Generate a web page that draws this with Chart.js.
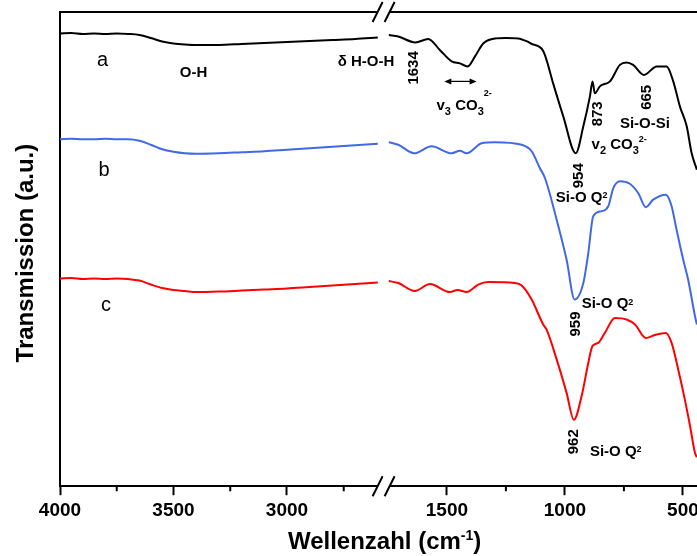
<!DOCTYPE html>
<html>
<head>
<meta charset="utf-8">
<title>FTIR</title>
<script src="https://cdn.jsdelivr.net/npm/chart.js@4.4.1/dist/chart.umd.min.js"></script>
<style>
html, body { margin: 0; padding: 0; background: #fff; overflow: hidden; }
#wrap { width: 720px; height: 556px; }
</style>
</head>
<body>
<div id="wrap"><canvas id="ftirChart" width="720" height="556"></canvas></div>
<script>
const FONT = "'Liberation Sans', Arial, sans-serif";

// high wavenumber part (4000 - 2600 cm-1), same grid for all three samples
const wnHigh = [4000, 3950, 3900, 3850, 3800, 3750, 3700, 3650, 3600, 3550, 3500, 3450, 3400, 3300, 3200, 3100, 3000, 2900, 2800, 2700, 2600];
const aHigh = [90.7, 90.8, 90.6, 90.7, 90.6, 90.7, 90.6, 90.4, 89.8, 89.1, 88.7, 88.5, 88.4, 88.4, 88.6, 88.8, 89.0, 89.2, 89.4, 89.6, 89.9];
const bHigh = [69.5, 69.6, 69.5, 69.5, 69.6, 69.5, 69.5, 69.2, 68.4, 67.5, 67.0, 66.7, 66.6, 66.7, 66.9, 67.1, 67.4, 67.7, 68.0, 68.3, 68.6];
const cHigh = [41.6, 41.7, 41.5, 41.6, 41.5, 41.6, 41.5, 41.2, 40.4, 39.7, 39.3, 39.1, 38.9, 39.0, 39.2, 39.4, 39.6, 39.9, 40.2, 40.5, 40.8];

// fingerprint part (1750 - 440 cm-1)
const aLowWn = [1746, 1706, 1634, 1579, 1530, 1480, 1445, 1412, 1381, 1346, 1297, 1250, 1198, 1160, 1141, 1092, 1050, 1007, 954, 922, 894, 883, 873, 852, 809, 767, 739, 711, 665, 611, 569, 541, 513, 484, 463, 441];
const aLow = [90.4, 90.1, 88.9, 89.6, 87.4, 85.1, 84.7, 84.1, 86.1, 88.7, 89.7, 89.8, 89.7, 89.1, 88.6, 87.2, 80.7, 74.1, 66.7, 72.1, 78.1, 81.1, 78.7, 80.1, 81.1, 84.4, 84.9, 84.4, 82.4, 84.1, 84.1, 81.1, 76.1, 72.1, 66.7, 63.4];

const bLowWn = [1746, 1706, 1639, 1565, 1480, 1445, 1416, 1353, 1297, 1183, 1141, 1106, 1085, 1035, 993, 959, 922, 901, 880, 845, 816, 795, 767, 725, 689, 657, 626, 572, 548, 527, 499, 478, 449, 441];
const bLow = [68.9, 68.4, 66.7, 68.1, 66.7, 67.2, 66.7, 68.7, 68.9, 68.4, 67.1, 63.7, 61.8, 53.4, 45.4, 37.4, 40.7, 46.7, 54.1, 55.1, 56.1, 59.7, 61.1, 60.6, 58.7, 55.9, 57.4, 58.4, 56.1, 51.4, 45.4, 41.4, 34.1, 32.4];

const cLowWn = [1746, 1706, 1636, 1572, 1487, 1455, 1416, 1367, 1325, 1212, 1183, 1141, 1092, 1078, 1035, 993, 962, 929, 901, 883, 859, 831, 788, 739, 703, 657, 619, 572, 548, 520, 492, 470, 449, 441];
const cLow = [41.1, 40.7, 39.1, 40.5, 38.9, 39.3, 38.9, 40.4, 40.9, 40.7, 40.2, 37.4, 32.4, 31.4, 25.4, 18.7, 13.3, 18.1, 24.7, 28.1, 28.7, 30.7, 33.7, 33.4, 32.4, 29.7, 30.3, 30.7, 28.7, 23.4, 17.4, 12.1, 6.7, 5.8];

const highTicks = [4000, 3750, 3500, 3250, 3000, 2750];
const lowTicks = [1500, 1250, 1000, 750, 500];

// band assignments, placed in wavenumber / transmission units
const notes = [
    {axis: 'xL', wn: 3813, t: 84.2, parts: [['a', 0, 20]], weight: 'normal', align: 'center'},
    {axis: 'xL', wn: 3806, t: 62.2, parts: [['b', 0, 20]], weight: 'normal', align: 'center'},
    {axis: 'xL', wn: 3797, t: 35.0, parts: [['c', 0, 20]], weight: 'normal', align: 'center'},
    {axis: 'xL', wn: 3412, t: 81.9, parts: [['O-H', 0, 15]], align: 'center'},
    {axis: 'xL', wn: 2652, t: 84.2, parts: [['δ H-O-H', 0, 15]], align: 'center'},
    {axis: 'xR', wn: 1640, t: 83.8, parts: [['1634', 0, 15]], rotate: true},
    {axis: 'xR', wn: 1544, t: 75.4, parts: [['v', 0, 15], ['3', 5, 11], [' CO', 0, 15], ['3', 5, 11], ['2-', -14, 9]]},
    {axis: 'xR', wn: 862, t: 74.6, parts: [['873', 0, 15]], rotate: true},
    {axis: 'xR', wn: 652, t: 77.9, parts: [['665', 0, 15]], rotate: true},
    {axis: 'xR', wn: 767, t: 71.7, parts: [['Si-O-Si', 0, 15]]},
    {axis: 'xR', wn: 887, t: 67.5, parts: [['v', 0, 15], ['2', 5, 11], [' CO', 0, 15], ['3', 5, 11], ['2-', -7, 9]]},
    {axis: 'xR', wn: 942, t: 62.2, parts: [['954', 0, 15]], rotate: true},
    {axis: 'xR', wn: 1039, t: 57.0, parts: [['Si-O Q', 0, 15], ['2', -3.5, 9]]},
    {axis: 'xR', wn: 955, t: 32.5, parts: [['959', 0, 15]], rotate: true},
    {axis: 'xR', wn: 929, t: 35.7, parts: [['Si-O Q', 0, 15], ['2', -3.5, 9]]},
    {axis: 'xR', wn: 962, t: 8.9, parts: [['962', 0, 15]], rotate: true},
    {axis: 'xR', wn: 894, t: 6.1, parts: [['Si-O Q', 0, 15], ['2', -3.5, 9]]},
];

const pts = (wn, t) => wn.map((w, i) => ({x: w, y: t[i]}));

function spectrum(color, tH, wnL, tL) {
    const style = {borderColor: color, borderWidth: 2, pointRadius: 0, fill: false, cubicInterpolationMode: 'monotone'};
    return [
        {...style, data: pts(wnHigh, tH), xAxisID: 'xL'},
        {...style, data: pts(wnL, tL), xAxisID: 'xR'},
    ];
}

function wnAxis(min, max, ticks, weight) {
    return {
        type: 'linear',
        position: 'bottom',
        stack: 'wn',
        stackWeight: weight,
        min: min,
        max: max,
        reverse: true,
        afterBuildTicks: (s) => { s.ticks = ticks.map((v) => ({value: v})); },
        grid: {
            drawOnChartArea: false,
            drawTicks: true,
            tickLength: 9,
            tickWidth: 2,
            tickColor: (c) => (c.tick && c.tick.value % 500 === 0 ? '#000' : 'rgba(0,0,0,0)'),
        },
        border: {display: true, color: '#000', width: 2},
        ticks: {
            autoSkip: false,
            maxRotation: 0,
            padding: 4,
            color: '#000',
            font: {family: FONT, size: 19, weight: 'bold'},
            callback: (v) => (v % 500 === 0 ? String(v) : ''),
        },
    };
}

function drawParts(ctx, parts, weight, x0, y0) {
    let x = x0;
    parts.forEach(([s, dy, sz]) => {
        ctx.font = weight + ' ' + sz + 'px ' + FONT;
        ctx.fillText(s, x, y0 + dy);
        x += ctx.measureText(s).width;
    });
}

function partsWidth(ctx, parts, weight) {
    return parts.reduce((w, [s, , sz]) => {
        ctx.font = weight + ' ' + sz + 'px ' + FONT;
        return w + ctx.measureText(s).width;
    }, 0);
}

const decorations = {
    id: 'decorations',
    afterDraw(chart) {
        const {ctx, chartArea: a, scales} = chart;
        ctx.save();
        ctx.strokeStyle = '#000';
        ctx.fillStyle = '#000';
        ctx.lineWidth = 2;

        // top and right frame
        ctx.beginPath();
        ctx.moveTo(a.left - 1, a.top);
        ctx.lineTo(a.right, a.top);
        ctx.lineTo(a.right, a.bottom);
        ctx.stroke();

        // short minor ticks
        ctx.beginPath();
        [scales.xL, scales.xR].forEach((s) => {
            s.ticks.forEach((t) => {
                if (t.value % 500 !== 0) {
                    const px = s.getPixelForValue(t.value);
                    ctx.moveTo(px, a.bottom);
                    ctx.lineTo(px, a.bottom + 5);
                }
            });
        });
        ctx.stroke();

        // axis break
        const xb = scales.xL.right;
        [a.top, a.bottom].forEach((yy) => {
            ctx.fillStyle = '#fff';
            ctx.fillRect(xb - 7, yy - 3, 12, 6);
            ctx.beginPath();
            [-7, 5].forEach((dx) => {
                ctx.moveTo(xb + dx - 5, yy + 10);
                ctx.lineTo(xb + dx + 5, yy - 10);
            });
            ctx.stroke();
        });

        // band labels
        ctx.fillStyle = '#000';
        notes.forEach((n) => {
            const weight = n.weight || 'bold';
            const x = scales[n.axis].getPixelForValue(n.wn);
            const y = scales.y.getPixelForValue(n.t);
            const w = partsWidth(ctx, n.parts, weight);
            ctx.save();
            ctx.translate(x, y);
            ctx.textAlign = 'left';
            if (n.rotate) {
                ctx.rotate(-Math.PI / 2);
                ctx.textBaseline = 'middle';
                drawParts(ctx, n.parts, weight, -w / 2, 0);
            } else {
                ctx.textBaseline = 'alphabetic';
                drawParts(ctx, n.parts, weight, n.align === 'center' ? -w / 2 : 0, 0);
            }
            ctx.restore();
        });

        // double arrow under the v3 carbonate band
        const ax1 = scales.xR.getPixelForValue(1511);
        const ax2 = scales.xR.getPixelForValue(1374);
        const ay = scales.y.getPixelForValue(81.1);
        ctx.lineWidth = 1.2;
        ctx.beginPath();
        ctx.moveTo(ax1 + 4, ay);
        ctx.lineTo(ax2 - 4, ay);
        ctx.stroke();
        ctx.beginPath();
        ctx.moveTo(ax1, ay);
        ctx.lineTo(ax1 + 7, ay - 3);
        ctx.lineTo(ax1 + 7, ay + 3);
        ctx.closePath();
        ctx.moveTo(ax2, ay);
        ctx.lineTo(ax2 - 7, ay - 3);
        ctx.lineTo(ax2 - 7, ay + 3);
        ctx.closePath();
        ctx.fill();

        // axis titles
        ctx.font = 'bold 24px ' + FONT;
        ctx.textBaseline = 'alphabetic';
        ctx.textAlign = 'center';
        ctx.save();
        ctx.translate(a.left - 27, (a.top + a.bottom) / 2 + 4);
        ctx.rotate(-Math.PI / 2);
        ctx.fillText('Transmission (a.u.)', 0, 0);
        ctx.restore();

        ctx.textAlign = 'left';
        const title = [['Wellenzahl (cm', 0, 24], ['-1', -9, 14], [')', 0, 24]];
        const tw = partsWidth(ctx, title, 'bold');
        drawParts(ctx, title, 'bold', xb - tw / 2, a.bottom + 63);
        ctx.restore();
    },
};

new Chart(document.getElementById('ftirChart'), {
    type: 'line',
    data: {
        datasets: [
            ...spectrum('#000000', aHigh, aLowWn, aLow),
            ...spectrum('rgb(64,104,232)', bHigh, bLowWn, bLow),
            ...spectrum('#ff0000', cHigh, cLowWn, cLow),
        ],
    },
    options: {
        responsive: false,
        animation: false,
        devicePixelRatio: 1,
        layout: {padding: {left: 60, top: 12, right: 13, bottom: 30}},
        plugins: {legend: {display: false}, tooltip: {enabled: false}},
        scales: {
            xL: wnAxis(2570, 4000, highTicks, 324.6),
            xR: wnAxis(398, 1764, lowTicks, 322.4),
            y: {
                min: 0,
                max: 95,
                ticks: {display: false},
                grid: {display: false, drawTicks: false},
                border: {display: true, color: '#000', width: 2},
            },
        },
    },
    plugins: [decorations],
});
</script>
</body>
</html>
